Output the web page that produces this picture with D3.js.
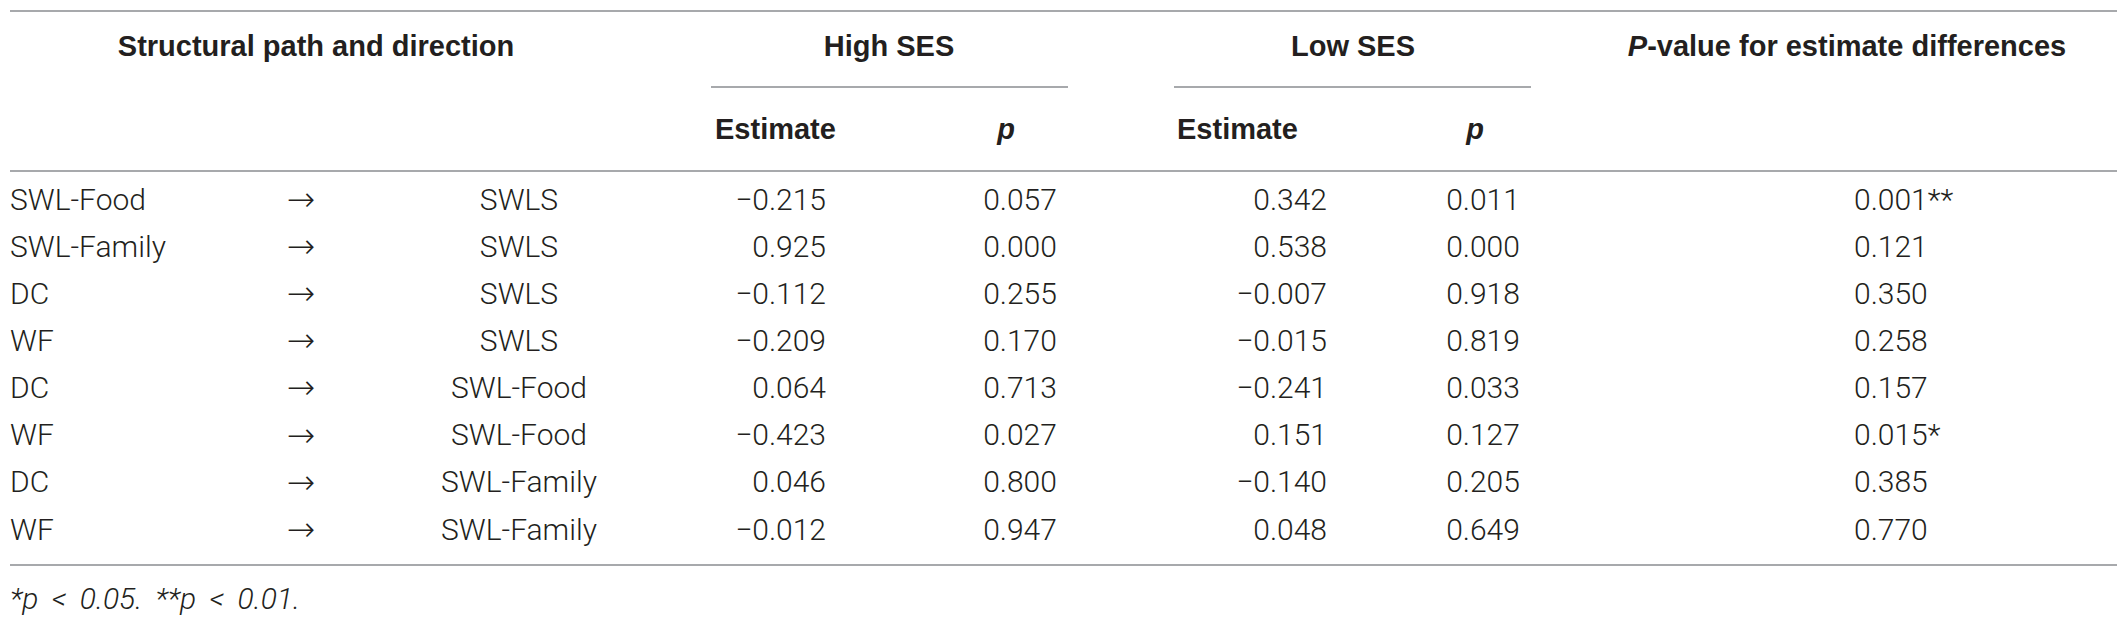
<!DOCTYPE html>
<meta charset="utf-8">
<script src="https://d3js.org/d3.v7.min.js"></script>
<style>
  body { margin: 0; background: #fff; }
  .cell { font-family: Roboto, "Liberation Sans", sans-serif; font-weight: 300; font-size: 30px; fill: #231f20; }
  .arrow { font-family: "DejaVu Sans", sans-serif; font-weight: 200; font-size: 34px; fill: #231f20; }
  .head { font-family: "Liberation Sans", Arial, sans-serif; font-weight: bold; font-size: 29px; fill: #231f20; }
  .note { font-family: Roboto, "Liberation Sans", sans-serif; font-weight: 300; font-style: italic; font-size: 30px; word-spacing: 6px; fill: #231f20; }
  .rule { stroke: #a7a9ac; stroke-width: 2; }
</style>
<div id="table"></div>
<script>
  // table contents
  var fromVars = ["SWL-Food", "SWL-Family", "DC", "WF", "DC", "WF", "DC", "WF"];
  var toVars = ["SWLS", "SWLS", "SWLS", "SWLS", "SWL-Food", "SWL-Food", "SWL-Family", "SWL-Family"];
  var highEst = [-0.215, 0.925, -0.112, -0.209, 0.064, -0.423, 0.046, -0.012];
  var highP = [0.057, 0.000, 0.255, 0.170, 0.713, 0.027, 0.800, 0.947];
  var lowEst = [0.342, 0.538, -0.007, -0.015, -0.241, 0.151, -0.140, 0.048];
  var lowP = [0.011, 0.000, 0.918, 0.819, 0.033, 0.127, 0.205, 0.649];
  var diffP = [0.001, 0.121, 0.350, 0.258, 0.157, 0.015, 0.385, 0.770];

  var width = 2128,
      height = 620;

  var fmt = d3.format(".3f");
  var stars = function(p) { return p < 0.01 ? "**" : (p < 0.05 ? "*" : ""); };

  var svg = d3.select("#table")
    .append("svg")
      .attr("width", width)
      .attr("height", height);

  // row positions
  var y = d3.scalePoint()
      .domain(d3.range(fromVars.length))
      .range([199, 529]);

  var rules = [11, 171, 565];
  svg.selectAll(".rule.full")
    .data(rules)
    .enter().append("line")
      .attr("class", "rule full")
      .attr("x1", 10).attr("x2", 2117)
      .attr("y1", function(d) { return d; })
      .attr("y2", function(d) { return d; });

  // spanning rules under High SES / Low SES
  var spans = [[711, 1068], [1174, 1531]];
  svg.selectAll(".rule.span")
    .data(spans)
    .enter().append("line")
      .attr("class", "rule span")
      .attr("x1", function(d) { return d[0]; })
      .attr("x2", function(d) { return d[1]; })
      .attr("y1", 87).attr("y2", 87);

  // header row 1
  var head1 = [
    {text: "Structural path and direction", x: 316},
    {text: "High SES", x: 889},
    {text: "Low SES", x: 1353}
  ];
  svg.selectAll(".h1")
    .data(head1)
    .enter().append("text")
      .attr("class", "head")
      .attr("x", function(d) { return d.x; })
      .attr("y", 46)
      .attr("dy", "0.35em")
      .attr("text-anchor", "middle")
      .text(function(d) { return d.text; });

  var pHead = svg.append("text")
      .attr("class", "head")
      .attr("x", 1847)
      .attr("y", 46)
      .attr("dy", "0.35em")
      .attr("text-anchor", "middle");
  pHead.append("tspan").style("font-style", "italic").text("P");
  pHead.append("tspan").text("-value for estimate differences");

  // header row 2
  var head2 = [
    {text: "Estimate", x: 715, anchor: "start", italic: false},
    {text: "p", x: 1006, anchor: "middle", italic: true},
    {text: "Estimate", x: 1177, anchor: "start", italic: false},
    {text: "p", x: 1475, anchor: "middle", italic: true}
  ];
  svg.selectAll(".h2")
    .data(head2)
    .enter().append("text")
      .attr("class", "head")
      .attr("x", function(d) { return d.x; })
      .attr("y", 129)
      .attr("dy", "0.35em")
      .attr("text-anchor", function(d) { return d.anchor; })
      .style("font-style", function(d) { return d.italic ? "italic" : "normal"; })
      .text(function(d) { return d.text; });

  // body columns
  var columns = [
    {values: fromVars, x: 10, anchor: "start", f: String, cls: "cell"},
    {values: fromVars.map(function() { return "\u2192"; }), x: 301, anchor: "middle", f: String, cls: "arrow"},
    {values: toVars, x: 519, anchor: "middle", f: String, cls: "cell"},
    {values: highEst, x: 826, anchor: "end", f: fmt, cls: "cell"},
    {values: highP, x: 1020, anchor: "middle", f: fmt, cls: "cell"},
    {values: lowEst, x: 1327, anchor: "end", f: fmt, cls: "cell"},
    {values: lowP, x: 1483, anchor: "middle", f: fmt, cls: "cell"},
    {values: diffP, x: 1854, anchor: "start", f: function(d) { return fmt(d) + stars(d); }, cls: "cell"}
  ];

  var col = svg.selectAll(".col")
    .data(columns)
    .enter().append("g")
      .attr("class", "col");

  col.selectAll("text")
    .data(function(c) { return c.values.map(function(v, i) { return {v: v, i: i, c: c}; }); })
    .enter().append("text")
      .attr("class", function(d) { return d.c.cls; })
      .attr("x", function(d) { return d.c.x; })
      .attr("y", function(d) { return y(d.i); })
      .attr("dy", "0.35em")
      .attr("text-anchor", function(d) { return d.c.anchor; })
      .text(function(d) { return d.c.f(d.v); });

  // footnote
  svg.append("text")
      .attr("class", "note")
      .attr("x", 10)
      .attr("y", 598)
      .attr("dy", "0.35em")
      .text("*p < 0.05. **p < 0.01.");
</script>
